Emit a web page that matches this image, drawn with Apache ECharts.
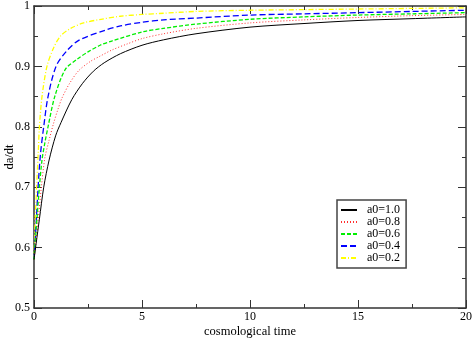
<!DOCTYPE html>
<html>
<head>
<meta charset="utf-8">
<script src="https://cdn.jsdelivr.net/npm/echarts@6/dist/echarts.min.js"></script>
<style>
  html, body { margin: 0; padding: 0; background: #fff; }
  #main { width: 474px; height: 339px; }
</style>
</head>
<body>
<div id="main"></div>
<script>
// values
const legendNames = ['a0=1.0', 'a0=0.8', 'a0=0.6', 'a0=0.4', 'a0=0.2'];

const tA10 = [0, 0.1, 0.25, 0.45, 0.7, 1, 1.25, 1.75, 2.25, 2.75, 3.25, 4, 5, 6, 7.5, 10, 12.5, 15, 17.5, 20];
const vA10 = [0.58, 0.607, 0.647, 0.70, 0.745, 0.785, 0.807, 0.845, 0.872, 0.892, 0.906, 0.921, 0.935, 0.944, 0.954, 0.965, 0.971, 0.976, 0.979, 0.982];

const tA08 = [0, 0.1, 0.2, 0.34, 0.5, 0.7, 0.9, 1.1, 1.3, 1.65, 2.07, 2.6, 3.06, 3.6, 4.3, 5, 6, 7.5, 10, 12.5, 15, 17.5, 20];
const vA08 = [0.58, 0.612, 0.648, 0.70, 0.748, 0.778, 0.805, 0.828, 0.848, 0.872, 0.893, 0.908, 0.917, 0.927, 0.937, 0.946, 0.954, 0.963, 0.972, 0.977, 0.981, 0.984, 0.986];

const tA06 = [0, 0.1, 0.25, 0.37, 0.5, 0.65, 0.96, 1.45, 2, 2.5, 3.06, 3.6, 5, 6, 7.5, 10, 12.5, 15, 17.5, 20];
const vA06 = [0.58, 0.63, 0.70, 0.745, 0.773, 0.80, 0.85, 0.895, 0.912, 0.924, 0.935, 0.942, 0.957, 0.963, 0.970, 0.978, 0.982, 0.985, 0.987, 0.989];

const tA04 = [0, 0.1, 0.19, 0.3, 0.45, 0.65, 1.02, 1.5, 2.07, 3.3, 4, 5, 6, 7.5, 10, 12.5, 15, 17.5, 20];
const vA04 = [0.58, 0.64, 0.70, 0.755, 0.80, 0.85, 0.90, 0.925, 0.943, 0.960, 0.967, 0.973, 0.977, 0.980, 0.985, 0.987, 0.989, 0.991, 0.993];

const tA02 = [0, 0.05, 0.12, 0.2, 0.25, 0.37, 0.6, 0.9, 1.22, 1.7, 2.3, 3.1, 4, 5, 6, 7.5, 10, 12.5, 15, 17.5, 20];
const vA02 = [0.58, 0.64, 0.70, 0.76, 0.80, 0.85, 0.90, 0.93, 0.95, 0.963, 0.972, 0.978, 0.983, 0.986, 0.988, 0.991, 0.993, 0.994, 0.995, 0.996, 0.997];

const xTicks = { min: 0, max: 20, interval: 5 };
const yTicks = { min: 0.5, max: 1, interval: 0.1 };

function pairs(ts, vs) {
  return ts.map((t, i) => [t, vs[i]]);
}

const serif = 'Liberation Serif';
const axisColor = '#333';

function frameAxis(pos, range, showLabel, margin) {
  return {
    type: 'value',
    position: pos,
    min: range.min,
    max: range.max,
    interval: range.interval,
    axisLine: { show: true, onZero: false, lineStyle: { color: axisColor, width: 1.5 } },
    axisTick: { show: true, inside: true, length: 8, lineStyle: { color: axisColor, width: 1 } },
    minorTick: { show: true, splitNumber: 2, length: 4, lineStyle: { color: axisColor, width: 1 } },
    splitLine: { show: false },
    axisLabel: {
      show: showLabel,
      fontFamily: serif,
      fontSize: 12,
      color: '#000',
      margin: margin || 4,
    },
  };
}

const xBottom = frameAxis('bottom', xTicks, true, 3);
xBottom.name = 'cosmological time';
xBottom.nameLocation = 'middle';
xBottom.nameGap = 17;
xBottom.nameMoveOverlap = false;
xBottom.nameTextStyle = { fontFamily: serif, fontSize: 12.5, color: '#000' };

const yLeft = frameAxis('left', yTicks, true, 4);
yLeft.name = 'da/dt';
yLeft.nameLocation = 'middle';
yLeft.nameGap = 18;
yLeft.nameMoveOverlap = false;
yLeft.nameTextStyle = { fontFamily: serif, fontSize: 12.5, color: '#000' };

const lineSpecs = [
  { color: '#000000', type: 'solid', width: 1 },
  { color: '#ff3030', type: [1, 2], width: 1 },
  { color: '#00ee00', type: [4, 2], width: 1.3 },
  { color: '#0000ff', type: [6, 3], width: 1.3 },
  { color: '#ffff00', type: [5, 2, 1, 2], width: 1.3 },
];
const seriesData = [
  pairs(tA10, vA10),
  pairs(tA08, vA08),
  pairs(tA06, vA06),
  pairs(tA04, vA04),
  pairs(tA02, vA02),
];

const option = {
  animation: false,
  backgroundColor: '#fff',
  grid: { left: 34, right: 8, top: 6, bottom: 31, outerBoundsMode: 'none', containLabel: false },
  xAxis: [xBottom, frameAxis('top', xTicks, false)],
  yAxis: [yLeft, frameAxis('right', yTicks, false)],
  legend: {
    orient: 'vertical',
    left: 337,
    top: 200,
    data: legendNames,
    itemWidth: 16,
    itemHeight: 10,
    itemGap: 0,
    padding: [4, 6, 4, 3],
    borderColor: '#444',
    borderWidth: 1.5,
    backgroundColor: '#fff',
    itemStyle: { opacity: 0 },
    textStyle: { fontFamily: serif, fontSize: 12, color: '#000', lineHeight: 12, padding: [0, 0, 0, 5] },
  },
  series: seriesData.map((d, i) => ({
    name: legendNames[i],
    type: 'line',
    data: d,
    xAxisIndex: 0,
    yAxisIndex: 0,
    symbol: 'none',
    smooth: 0.3,
    lineStyle: lineSpecs[i],
    itemStyle: { color: lineSpecs[i].color },
    z: 10 - i,
  })),
};

const chart = echarts.init(document.getElementById('main'), null, { renderer: 'canvas' });
chart.setOption(option);
</script>
</body>
</html>
